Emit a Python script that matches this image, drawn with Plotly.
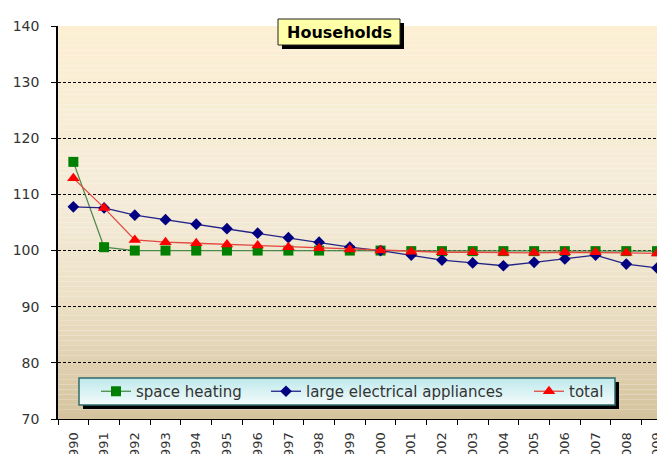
import plotly.graph_objects as go

years = [str(y) for y in range(1990, 2010)]
space_heating = [115.8, 100.6, 100.0, 100.0, 100.0, 100.0, 100.0, 100.0, 100.0, 100.0,
                 100.0, 99.9, 99.9, 99.9, 99.9, 99.9, 99.9, 99.9, 99.9, 99.9]
large_appliances = [107.8, 107.6, 106.3, 105.5, 104.7, 103.9, 103.1, 102.3, 101.5, 100.6,
                    100.0, 99.2, 98.3, 97.8, 97.3, 97.9, 98.5, 99.2, 97.6, 96.9]
total = [112.9, 107.6, 101.9, 101.5, 101.3, 101.1, 100.9, 100.6, 100.4, 100.2,
         100.0, 99.8, 99.7, 99.7, 99.6, 99.6, 99.7, 99.7, 99.6, 99.5]
y_ticks = [70, 80, 90, 100, 110, 120, 130, 140]

W, H = 657, 454
L, R, T, B = 58, 0, 26, 35
PW, PH = W - L - R, H - T - B


def px_x(px):
    return (px - L) / PW


def px_y(py):
    return (H - B - py) / PH


def lerp_color(stops, t):
    for i in range(len(stops) - 1):
        t0, c0 = stops[i]
        t1, c1 = stops[i + 1]
        if t0 <= t <= t1:
            f = (t - t0) / (t1 - t0) if t1 > t0 else 0
            c = [round(c0[k] + (c1[k] - c0[k]) * f) for k in range(3)]
            return "rgb(%d,%d,%d)" % tuple(c)
    c = stops[-1][1]
    return "rgb(%d,%d,%d)" % tuple(c)


shapes = []
# plot background gradient (top -> bottom)
bg_stops = [(0.0, (252, 239, 211)), (0.45, (244, 235, 216)),
            (0.7, (236, 224, 198)), (1.0, (212, 195, 157))]
N = 80
for i in range(N):
    t = (i + 0.5) / N
    shapes.append(dict(type="rect", xref="paper", yref="paper", layer="below",
                       x0=0, x1=1, y0=1 - (i + 1) / N, y1=1 - i / N,
                       fillcolor=lerp_color(bg_stops, t), line=dict(width=0)))

# title box with shadow
shapes.append(dict(type="rect", xref="paper", yref="paper", layer="above",
                   x0=px_x(282), x1=px_x(404), y0=px_y(49), y1=px_y(23),
                   fillcolor="black", line=dict(width=0)))
shapes.append(dict(type="rect", xref="paper", yref="paper", layer="above",
                   x0=px_x(278), x1=px_x(400), y0=px_y(45), y1=px_y(19),
                   fillcolor="#FFFFA8", line=dict(color="#222222", width=1)))

# legend box with shadow and gradient
shapes.append(dict(type="rect", xref="paper", yref="paper", layer="above",
                   x0=px_x(83), x1=px_x(619), y0=px_y(409), y1=px_y(382),
                   fillcolor="black", line=dict(width=0)))
lg_stops = [(0.0, (190, 233, 236)), (1.0, (244, 251, 251))]
top_py, bot_py = 378, 405
NL = 27
for i in range(NL):
    t = (i + 0.5) / NL
    y_top = top_py + (bot_py - top_py) * i / NL
    y_bot = top_py + (bot_py - top_py) * (i + 1) / NL
    shapes.append(dict(type="rect", xref="paper", yref="paper", layer="above",
                       x0=px_x(79), x1=px_x(615), y0=px_y(y_bot), y1=px_y(y_top),
                       fillcolor=lerp_color(lg_stops, t), line=dict(width=0)))
shapes.append(dict(type="rect", xref="paper", yref="paper", layer="above",
                   x0=px_x(79), x1=px_x(615), y0=px_y(405), y1=px_y(378),
                   fillcolor="rgba(0,0,0,0)", line=dict(color="#2F6B6B", width=1.5)))

fig = go.Figure()
fig.add_trace(go.Scatter(
    x=years, y=space_heating, name="space heating", mode="lines+markers",
    line=dict(color="#4C8A4C", width=1.3),
    marker=dict(symbol="square", size=10, color="#008000"),
    legend="legend"))
fig.add_trace(go.Scatter(
    x=years, y=large_appliances, name="large electrical appliances", mode="lines+markers",
    line=dict(color="#232388", width=1.3),
    marker=dict(symbol="diamond", size=9, color="#000080"),
    legend="legend2"))
fig.add_trace(go.Scatter(
    x=years, y=total, name="total", mode="lines+markers",
    line=dict(color="#E2483E", width=1.3),
    marker=dict(symbol="triangle-up", size=11, color="#FF0000"),
    legend="legend3"))

leg_font = dict(family="DejaVu Sans", size=15, color="#333333")
leg_common = dict(orientation="h", yanchor="middle", y=px_y(391.5), xanchor="left",
                  bgcolor="rgba(0,0,0,0)", borderwidth=0, font=leg_font)

fig.update_layout(
    width=W, height=H,
    margin=dict(l=L, r=R, t=T, b=B, autoexpand=False),
    paper_bgcolor="white",
    plot_bgcolor="rgba(0,0,0,0)",
    shapes=shapes,
    showlegend=True,
    legend=dict(x=px_x(96), **leg_common),
    legend2=dict(x=px_x(266), **leg_common),
    legend3=dict(x=px_x(529), **leg_common),
    annotations=[dict(text="Households", xref="paper", yref="paper",
                      x=px_x(339), y=px_y(32), xanchor="center", yanchor="middle",
                      showarrow=False,
                      font=dict(family="DejaVu Sans", size=16, color="black", weight="bold"))],
    xaxis=dict(type="category", range=[-0.5, 19], showgrid=False,
               showline=True, linecolor="black", linewidth=1.2,
               ticks="outside", tickson="boundaries", ticklen=5, tickcolor="black",
               tickangle=-90, tickfont=dict(family="DejaVu Sans", size=13, color="#333333"),
               ticklabelstandoff=7),
    yaxis=dict(range=[70, 140], tickvals=y_ticks, showgrid=True,
               gridcolor="black", gridwidth=1, griddash="3px,2px",
               showline=True, linecolor="black", linewidth=1.5, zeroline=False,
               ticks="outside", ticklen=5, tickcolor="black",
               tickfont=dict(family="DejaVu Sans", size=14, color="#333333"),
               ticklabelstandoff=9),
)

fig.write_html("out.html", config={"displayModeBar": False},
               post_script="document.body.style.margin='0px';")
